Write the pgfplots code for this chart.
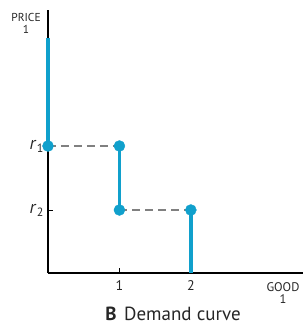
\documentclass[border=0pt]{standalone}
\usepackage{pgfplots}
\pgfplotsset{compat=1.18}
\usepackage{fontspec}
\setmainfont{PT Sans}
\definecolor{dblue}{RGB}{16,160,204}
\newcommand{\rlab}[1]{{\fontsize{18}{18}\selectfont\textit{r}\kern0.5pt\raisebox{-3pt}{\fontsize{12}{12}\selectfont #1}}}
\begin{document}
\begin{tikzpicture}[x=1pt,y=1pt]
\path[use as bounding box] (0,0) rectangle (306,325);
\begin{axis}[
  at={(48pt,52pt)}, anchor=origin,
  scale only axis, width=255pt, height=263pt,
  xmin=0, xmax=3.57, ymin=0, ymax=263,
  axis lines=left, axis line style={-, line width=1.6pt, black},
  xtick={1,2}, xticklabels={1,2},
  ytick={63,127}, yticklabels={\rlab{2},\rlab{1}},
  tick style={black, line width=0.8pt},
  major tick length=5pt,
  tick align=inside,
  /pgf/number format/assume math mode=true,
  tick label style={font=\fontsize{14}{15}\selectfont, text=black!85},
  yticklabel style={xshift=-1pt},
  xticklabel style={yshift=-4pt},
  clip=false,
]
\addplot[black!50, line width=1.3pt, dash pattern=on 8pt off 5pt] coordinates {(0,127) (1,127)};
\addplot[black!50, line width=1.3pt, dash pattern=on 8pt off 5pt] coordinates {(1,63) (2,63)};
\addplot[dblue, line width=3.5pt] coordinates {(0,235) (0,127)};
\addplot[dblue, line width=3.5pt] coordinates {(1,127) (1,63)};
\addplot[dblue, line width=3.5pt] coordinates {(2,63) (2,0)};
\addplot[only marks, mark=*, mark size=5.5pt, dblue, mark options={draw=dblue, fill=dblue}] coordinates {(0,127) (1,127) (1,63) (2,63)};
\end{axis}
\node[align=center, font=\fontsize{11.5}{12}\selectfont, text=black!85] at (26,302) {PRICE\\1};
\node[align=center, font=\fontsize{12.5}{12}\selectfont, text=black!85] at (283,32) {GOOD\\1};
\node[anchor=base, inner sep=0pt, font=\fontsize{19}{20}\selectfont, text=black!85] at (173,5) {\textbf{B}\hspace{0.4em}Demand curve};
\end{tikzpicture}
\end{document}
